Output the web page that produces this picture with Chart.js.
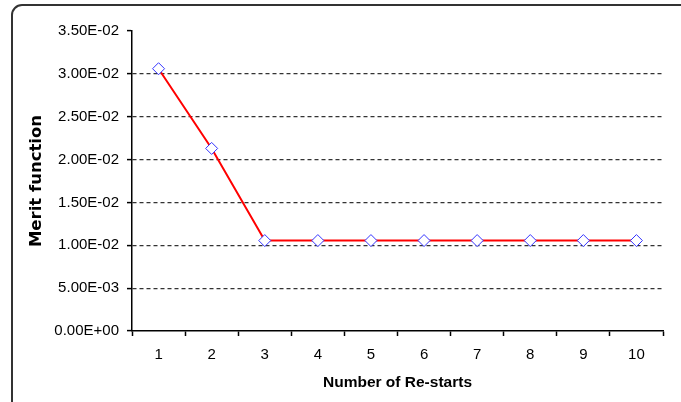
<!DOCTYPE html>
<html>
<head>
<meta charset="utf-8">
<script src="https://cdn.jsdelivr.net/npm/chart.js@4"></script>
<style>
  body { margin: 0; background: #fff; }
  canvas { display: block; }
</style>
</head>
<body>
<canvas id="meritChart" width="681" height="402"></canvas>
<script>
// data
const restarts = ['1', '2', '3', '4', '5', '6', '7', '8', '9', '10'];
const meritValues = [0.0306, 0.0213, 0.01055, 0.01055, 0.01055, 0.01055, 0.01055, 0.01055, 0.01055, 0.01055];
const yTicks = [0, 0.005, 0.01, 0.015, 0.02, 0.025, 0.03, 0.035];

// Excel style "3.50E-02"
function sciLabel(v) {
    const parts = Number(v).toExponential(2).toUpperCase().split('E');
    let exp = parts[1];
    const sign = exp[0] === '-' ? '-' : '+';
    exp = exp.replace('+', '').replace('-', '');
    if (exp.length < 2) exp = '0' + exp;
    return parts[0] + 'E' + sign + exp;
}

// rounded frame round the whole chart
const framePlugin = {
    id: 'frame',
    beforeDraw(chart) {
        const ctx = chart.ctx;
        const x = 12, y = 5, r = 10;
        ctx.save();
        ctx.strokeStyle = '#333';
        ctx.lineWidth = 2;
        ctx.beginPath();
        ctx.moveTo(x, 420);
        ctx.lineTo(x, y + r);
        ctx.arcTo(x, y, x + r, y, r);
        ctx.lineTo(700, y);
        ctx.stroke();
        ctx.restore();
    }
};

const ctx = document.getElementById('meritChart').getContext('2d');
new Chart(ctx, {
    type: 'line',
    data: {
        labels: restarts,
        datasets: [{
            label: 'Merit function',
            data: meritValues,
            borderColor: '#ff0000',
            borderWidth: 2,
            pointStyle: 'rectRot',
            pointRadius: 6,
            pointBorderColor: '#3333ff',
            pointBackgroundColor: '#ffffff',
            pointBorderWidth: 1,
            tension: 0
        }]
    },
    options: {
        responsive: false,
        animation: false,
        layout: { padding: { top: 31, right: 18, left: 0, bottom: 0 } },
        plugins: {
            legend: { display: false },
            tooltip: { enabled: false }
        },
        scales: {
            x: {
                offset: true,
                grid: {
                    offset: true,
                    drawOnChartArea: false,
                    drawTicks: true,
                    tickLength: 5,
                    tickColor: '#000',
                    tickWidth: 1.5
                },
                border: { display: true, color: '#000', width: 1.5 },
                ticks: {
                    color: '#000',
                    padding: 10,
                    font: { family: 'Liberation Sans, Arial, sans-serif', size: 15 }
                },
                title: {
                    display: true,
                    text: 'Number of Re-starts',
                    color: '#000',
                    padding: { top: 0, bottom: 10 },
                    font: { family: 'Liberation Sans, Arial, sans-serif', size: 15.5, weight: 'bold' }
                },
                afterFit(scale) { scale.height = 71; }
            },
            y: {
                min: 0,
                max: 0.035,
                afterBuildTicks(scale) {
                    scale.ticks = yTicks.map(v => ({ value: v }));
                },
                grid: {
                    color(c) {
                        const v = c.tick ? c.tick.value : 0;
                        return (v <= 0 || v >= 0.035) ? 'rgba(0,0,0,0)' : '#333';
                    },
                    lineWidth: 1.2,
                    drawTicks: true,
                    tickLength: 5,
                    tickColor: '#000',
                    tickWidth: 1.5,
                    tickBorderDash: []
                },
                border: { display: true, color: '#000', width: 1.5, dash: [4, 3] },
                ticks: {
                    color: '#000',
                    padding: 8,
                    font: { family: 'Liberation Sans, Arial, sans-serif', size: 15 },
                    callback: v => sciLabel(v)
                },
                title: {
                    display: true,
                    text: 'Merit function',
                    color: '#000',
                    padding: { top: 27, bottom: 0 },
                    font: { family: 'DejaVu Sans, sans-serif', size: 16.5, weight: 'bold' }
                },
                afterFit(scale) { scale.width = 132; }
            }
        }
    },
    plugins: [framePlugin]
});
</script>
</body>
</html>
